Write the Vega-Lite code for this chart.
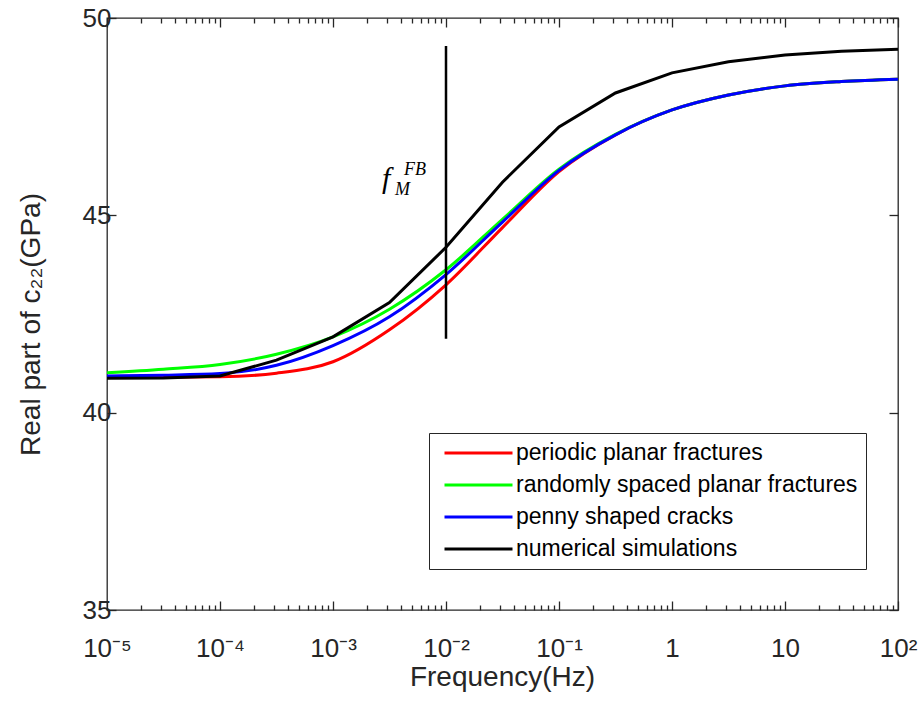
{
  "$schema": "https://vega.github.io/schema/vega-lite/v6.json",
  "width": 791,
  "height": 592,
  "autosize": "none",
  "padding": {"left": 107, "top": 18, "right": 22, "bottom": 97},
  "config": {
    "view": {"stroke": "#262626", "strokeWidth": 1.3},
    "font": "Liberation Sans",
    "axis": {
      "grid": false,
      "domain": false,
      "zindex": 1,
      "tickColor": "#262626",
      "tickWidth": 1.3,
      "labelColor": "#262626",
      "titleColor": "#262626",
      "labelFont": "Liberation Sans",
      "titleFont": "Liberation Sans",
      "labelFontSize": 26,
      "titleFontSize": 28,
      "titleFontWeight": "normal"
    }
  },
  "datasets": {
    "curves": [
      {"f": 0.00001, "v": 40.90, "s": "periodic planar fractures"},
      {"f": 0.0000316, "v": 40.90, "s": "periodic planar fractures"},
      {"f": 0.0001, "v": 40.91, "s": "periodic planar fractures"},
      {"f": 0.000316, "v": 41.00, "s": "periodic planar fractures"},
      {"f": 0.001, "v": 41.29, "s": "periodic planar fractures"},
      {"f": 0.00316, "v": 42.10, "s": "periodic planar fractures"},
      {"f": 0.01, "v": 43.24, "s": "periodic planar fractures"},
      {"f": 0.0316, "v": 44.69, "s": "periodic planar fractures"},
      {"f": 0.1, "v": 46.11, "s": "periodic planar fractures"},
      {"f": 0.316, "v": 47.04, "s": "periodic planar fractures"},
      {"f": 1, "v": 47.67, "s": "periodic planar fractures"},
      {"f": 3.16, "v": 48.05, "s": "periodic planar fractures"},
      {"f": 10, "v": 48.28, "s": "periodic planar fractures"},
      {"f": 31.6, "v": 48.39, "s": "periodic planar fractures"},
      {"f": 100, "v": 48.45, "s": "periodic planar fractures"},
      {"f": 0.00001, "v": 41.01, "s": "randomly spaced planar fractures"},
      {"f": 0.0000316, "v": 41.10, "s": "randomly spaced planar fractures"},
      {"f": 0.0001, "v": 41.22, "s": "randomly spaced planar fractures"},
      {"f": 0.000316, "v": 41.48, "s": "randomly spaced planar fractures"},
      {"f": 0.001, "v": 41.92, "s": "randomly spaced planar fractures"},
      {"f": 0.00316, "v": 42.62, "s": "randomly spaced planar fractures"},
      {"f": 0.01, "v": 43.62, "s": "randomly spaced planar fractures"},
      {"f": 0.0316, "v": 44.90, "s": "randomly spaced planar fractures"},
      {"f": 0.1, "v": 46.17, "s": "randomly spaced planar fractures"},
      {"f": 0.316, "v": 47.05, "s": "randomly spaced planar fractures"},
      {"f": 1, "v": 47.67, "s": "randomly spaced planar fractures"},
      {"f": 3.16, "v": 48.05, "s": "randomly spaced planar fractures"},
      {"f": 10, "v": 48.28, "s": "randomly spaced planar fractures"},
      {"f": 31.6, "v": 48.39, "s": "randomly spaced planar fractures"},
      {"f": 100, "v": 48.45, "s": "randomly spaced planar fractures"},
      {"f": 0.00001, "v": 40.93, "s": "penny shaped cracks"},
      {"f": 0.0000316, "v": 40.95, "s": "penny shaped cracks"},
      {"f": 0.0001, "v": 40.99, "s": "penny shaped cracks"},
      {"f": 0.000316, "v": 41.20, "s": "penny shaped cracks"},
      {"f": 0.001, "v": 41.70, "s": "penny shaped cracks"},
      {"f": 0.00316, "v": 42.43, "s": "penny shaped cracks"},
      {"f": 0.01, "v": 43.50, "s": "penny shaped cracks"},
      {"f": 0.0316, "v": 44.83, "s": "penny shaped cracks"},
      {"f": 0.1, "v": 46.14, "s": "penny shaped cracks"},
      {"f": 0.316, "v": 47.04, "s": "penny shaped cracks"},
      {"f": 1, "v": 47.67, "s": "penny shaped cracks"},
      {"f": 3.16, "v": 48.05, "s": "penny shaped cracks"},
      {"f": 10, "v": 48.28, "s": "penny shaped cracks"},
      {"f": 31.6, "v": 48.39, "s": "penny shaped cracks"},
      {"f": 100, "v": 48.45, "s": "penny shaped cracks"}
    ],
    "sim": [
      {"f": 0.00001, "v": 40.87, "s": "numerical simulations"},
      {"f": 0.0000316, "v": 40.88, "s": "numerical simulations"},
      {"f": 0.0001, "v": 40.93, "s": "numerical simulations"},
      {"f": 0.000316, "v": 41.33, "s": "numerical simulations"},
      {"f": 0.001, "v": 41.92, "s": "numerical simulations"},
      {"f": 0.00316, "v": 42.79, "s": "numerical simulations"},
      {"f": 0.01, "v": 44.19, "s": "numerical simulations"},
      {"f": 0.0316, "v": 45.84, "s": "numerical simulations"},
      {"f": 0.1, "v": 47.24, "s": "numerical simulations"},
      {"f": 0.316, "v": 48.10, "s": "numerical simulations"},
      {"f": 1, "v": 48.61, "s": "numerical simulations"},
      {"f": 3.16, "v": 48.89, "s": "numerical simulations"},
      {"f": 10, "v": 49.06, "s": "numerical simulations"},
      {"f": 31.6, "v": 49.16, "s": "numerical simulations"},
      {"f": 100, "v": 49.21, "s": "numerical simulations"}
    ],
    "marker": [{"f": 0.01, "v1": 41.87, "v2": 49.29}],
    "lab_f": [{"f": 0.00272, "v": 45.69, "t": "f"}],
    "lab_m": [{"f": 0.00354, "v": 45.52, "t": "M"}],
    "lab_fb": [{"f": 0.00425, "v": 46.02, "t": "FB"}]
  },
  "layer": [
    {
      "data": {"name": "curves"},
      "mark": {"type": "line", "interpolate": "monotone", "strokeWidth": 3},
      "encoding": {
        "x": {
          "field": "f", "type": "quantitative",
          "scale": {"type": "log", "domain": [0.00001, 100]},
          "axis": {
            "orient": "bottom",
            "values": [0.00001, 0.0001, 0.001, 0.01, 0.1, 1, 10, 100],
            "labelExpr": "['10⁻⁵','10⁻⁴','10⁻³','10⁻²','10⁻¹','1','10','10²'][round(log(datum.value)/LN10)+5]",
            "tickSize": -9,
            "labelBaseline": "alphabetic",
            "labelPadding": 55,
            "labelFlush": false,
            "labelOverlap": false,
            "title": "Frequency(Hz)",
            "titleX": 395,
            "titleY": 75,
            "titleAlign": "center",
            "titleBaseline": "alphabetic"
          }
        },
        "y": {
          "field": "v", "type": "quantitative",
          "scale": {"domain": [35, 50], "nice": false, "zero": false},
          "axis": {
            "orient": "left",
            "values": [35, 40, 45, 50],
            "tickSize": -9,
            "labelPadding": 5,
            "labelBaseline": "middle",
            "title": "Real part of c₂₂(GPa)",
            "titleX": -68,
            "titleY": 306,
            "titleAngle": -90,
            "titleAlign": "center",
            "titleBaseline": "alphabetic"
          }
        },
        "color": {
          "field": "s", "type": "nominal",
          "scale": {
            "domain": ["periodic planar fractures", "randomly spaced planar fractures", "penny shaped cracks", "numerical simulations"],
            "range": ["#ff0000", "#00ff00", "#0000ff", "#000000"]
          },
          "legend": {
            "orient": "none",
            "legendX": 322,
            "legendY": 415,
            "title": null,
            "symbolType": "stroke",
            "symbolSize": 4624,
            "symbolStrokeWidth": 3,
            "symbolOffset": 6,
            "clipHeight": 24,
            "rowPadding": 8,
            "padding": 8,
            "labelOffset": 2,
            "labelFont": "Liberation Sans",
            "labelFontSize": 23,
            "labelColor": "#000000",
            "labelLimit": 600,
            "strokeColor": "#262626",
            "fillColor": "#ffffff"
          }
        }
      }
    },
    {
      "data": {"name": "sim"},
      "mark": {"type": "line", "interpolate": "linear", "strokeWidth": 3},
      "encoding": {
        "x": {"field": "f", "type": "quantitative", "axis": null},
        "y": {"field": "v", "type": "quantitative", "axis": null},
        "color": {"field": "s", "type": "nominal"}
      }
    },
    {
      "data": {"name": "sim"},
      "mark": {"type": "line", "strokeOpacity": 0},
      "encoding": {
        "x": {
          "field": "f", "type": "quantitative",
          "axis": {
            "orient": "bottom",
            "values": [0.00002,0.00003,0.00004,0.00005,0.00006,0.00007,0.00008,0.00009,
                       0.0002,0.0003,0.0004,0.0005,0.0006,0.0007,0.0008,0.0009,
                       0.002,0.003,0.004,0.005,0.006,0.007,0.008,0.009,
                       0.02,0.03,0.04,0.05,0.06,0.07,0.08,0.09,
                       0.2,0.3,0.4,0.5,0.6,0.7,0.8,0.9,
                       2,3,4,5,6,7,8,9,
                       20,30,40,50,60,70,80,90],
            "labels": false,
            "tickSize": -5,
            "title": null
          }
        },
        "y": {
          "field": "v", "type": "quantitative",
          "axis": {"orient": "right", "values": [35, 40, 45, 50], "labels": false, "tickSize": -9, "title": null}
        }
      }
    },
    {
      "data": {"name": "sim"},
      "mark": {"type": "line", "strokeOpacity": 0},
      "encoding": {
        "x": {
          "field": "f", "type": "quantitative",
          "axis": {
            "orient": "top",
            "values": [0.00001, 0.0001, 0.001, 0.01, 0.1, 1, 10, 100],
            "labels": false,
            "tickSize": -9,
            "title": null
          }
        },
        "y": {"field": "v", "type": "quantitative", "axis": null}
      }
    },
    {
      "data": {"name": "sim"},
      "mark": {"type": "line", "strokeOpacity": 0},
      "encoding": {
        "x": {
          "field": "f", "type": "quantitative",
          "axis": {
            "orient": "top",
            "values": [0.00002,0.00003,0.00004,0.00005,0.00006,0.00007,0.00008,0.00009,
                       0.0002,0.0003,0.0004,0.0005,0.0006,0.0007,0.0008,0.0009,
                       0.002,0.003,0.004,0.005,0.006,0.007,0.008,0.009,
                       0.02,0.03,0.04,0.05,0.06,0.07,0.08,0.09,
                       0.2,0.3,0.4,0.5,0.6,0.7,0.8,0.9,
                       2,3,4,5,6,7,8,9,
                       20,30,40,50,60,70,80,90],
            "labels": false,
            "tickSize": -5,
            "title": null
          }
        },
        "y": {"field": "v", "type": "quantitative", "axis": null}
      }
    },
    {
      "data": {"name": "marker"},
      "mark": {"type": "rule", "color": "#000000", "strokeWidth": 2.5},
      "encoding": {
        "x": {"field": "f", "type": "quantitative", "axis": null},
        "y": {"field": "v1", "type": "quantitative", "axis": null},
        "y2": {"field": "v2"}
      }
    },
    {
      "data": {"name": "lab_f"},
      "mark": {"type": "text", "font": "Liberation Serif", "fontStyle": "italic", "fontSize": 30, "align": "left", "baseline": "alphabetic", "color": "#000000"},
      "encoding": {
        "x": {"field": "f", "type": "quantitative", "axis": null},
        "y": {"field": "v", "type": "quantitative", "axis": null},
        "text": {"field": "t"}
      }
    },
    {
      "data": {"name": "lab_m"},
      "mark": {"type": "text", "font": "Liberation Serif", "fontStyle": "italic", "fontSize": 18, "align": "left", "baseline": "alphabetic", "color": "#000000"},
      "encoding": {
        "x": {"field": "f", "type": "quantitative", "axis": null},
        "y": {"field": "v", "type": "quantitative", "axis": null},
        "text": {"field": "t"}
      }
    },
    {
      "data": {"name": "lab_fb"},
      "mark": {"type": "text", "font": "Liberation Serif", "fontStyle": "italic", "fontSize": 18, "align": "left", "baseline": "alphabetic", "color": "#000000"},
      "encoding": {
        "x": {"field": "f", "type": "quantitative", "axis": null},
        "y": {"field": "v", "type": "quantitative", "axis": null},
        "text": {"field": "t"}
      }
    }
  ],
  "resolve": {"axis": {"x": "independent", "y": "independent"}}
}
